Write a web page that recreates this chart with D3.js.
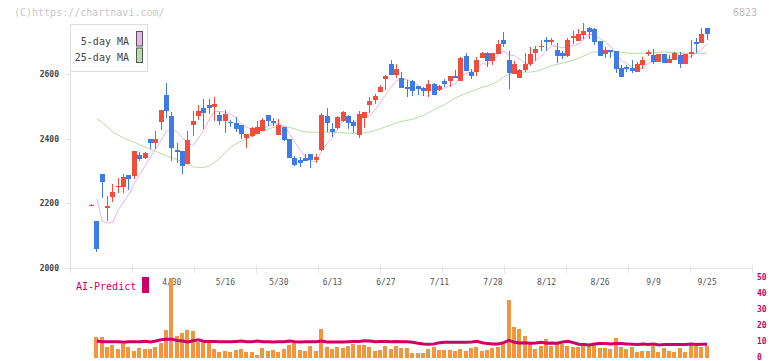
<!DOCTYPE html>
<html><head><meta charset="utf-8">
<script src="https://cdn.jsdelivr.net/npm/d3@7"></script>
<style>
body{margin:0;background:#fff;}
svg{display:block;}
text{font-family:"DejaVu Sans Mono","Liberation Mono",monospace;}
</style>
</head><body>
<svg id="c" width="772" height="361"></svg>
<script>
const dates = ["4/8","4/9","4/10","4/11","4/14","4/15","4/16","4/17","4/18","4/21","4/22","4/23","4/24","4/25","4/28","4/30",
"5/1","5/2","5/7","5/8","5/9","5/12","5/13","5/14","5/15","5/16","5/19","5/20","5/21","5/22","5/23","5/26","5/27","5/28","5/29","5/30",
"6/2","6/3","6/4","6/5","6/6","6/9","6/10","6/11","6/12","6/13","6/16","6/17","6/18","6/19","6/20","6/23","6/24","6/25","6/26","6/27","6/30",
"7/1","7/2","7/3","7/4","7/7","7/8","7/9","7/10","7/11","7/14","7/15","7/16","7/17","7/18","7/22","7/23","7/24","7/25","7/28","7/29","7/30","7/31",
"8/1","8/4","8/5","8/6","8/7","8/8","8/12","8/13","8/14","8/15","8/18","8/19","8/20","8/21","8/22","8/25","8/26","8/27","8/28","8/29",
"9/1","9/2","9/3","9/4","9/5","9/8","9/9","9/10","9/11","9/12","9/16","9/17","9/18","9/19","9/22","9/24","9/25"];

const openP = [2195,2146,2292,2187,2221,2250,2250,2289,2284,2350,
2340,2400,2387,2452,2535,2469,2365,2361,2323,2441,
2469,2494,2504,2497,2472,2454,2452,2449,2441,2401,
2407,2413,2423,2472,2454,2410,2435,2398,2339,2333,
2339,2354,2333,2364,2469,2429,2432,2454,2469,2451,
2410,2463,2504,2519,2544,2584,2631,2597,2588,2560,
2578,2563,2557,2547,2569,2550,2578,2578,2594,2578,
2656,2606,2606,2650,2665,2640,2662,2706,2643,2600,
2588,2612,2631,2665,2684,2706,2700,2675,2665,2656,
2712,2703,2721,2743,2740,2703,2662,2675,2671,2619,
2622,2619,2606,2628,2662,2659,2637,2662,2634,2643,
2659,2631,2662,2700,2696,2743];

const highP = [2197,2146,2292,2222,2261,2277,2292,2289,2361,2358,
2360,2400,2424,2488,2572,2481,2386,2361,2424,2485,
2504,2522,2522,2528,2481,2488,2457,2466,2443,2413,
2435,2454,2463,2472,2463,2460,2435,2398,2345,2342,
2354,2354,2354,2479,2494,2448,2470,2485,2472,2457,
2485,2482,2528,2538,2566,2597,2643,2631,2606,2581,
2581,2563,2560,2581,2572,2565,2584,2594,2612,2653,
2665,2616,2653,2668,2668,2665,2706,2731,2671,2640,
2615,2665,2684,2687,2706,2715,2712,2696,2671,2712,
2734,2740,2759,2746,2743,2703,2684,2675,2671,2628,
2628,2643,2637,2653,2675,2678,2662,2662,2659,2668,
2668,2662,2706,2712,2743,2743];

const lowP = [2193,2051,2218,2146,2203,2231,2231,2242,2276,2330,
2338,2367,2367,2427,2463,2331,2326,2292,2323,2408,
2457,2429,2476,2454,2443,2419,2435,2421,2398,2370,
2405,2413,2423,2438,2438,2410,2392,2339,2317,2311,
2330,2308,2326,2361,2420,2404,2430,2452,2429,2417,
2401,2432,2479,2507,2544,2550,2597,2588,2557,2528,
2532,2535,2532,2528,2535,2548,2560,2560,2588,2578,
2609,2584,2594,2650,2622,2628,2662,2684,2553,2600,
2588,2606,2625,2640,2671,2671,2690,2634,2647,2653,
2693,2703,2709,2709,2690,2656,2650,2650,2603,2591,
2606,2603,2606,2616,2656,2631,2637,2634,2634,2643,
2619,2631,2650,2665,2696,2706];

const closeP = [2195,2059,2267,2193,2234,2255,2280,2274,2361,2336,
2357,2387,2400,2488,2486,2370,2359,2315,2395,2454,
2485,2479,2494,2507,2454,2476,2450,2430,2413,2413,
2432,2435,2457,2454,2449,2441,2395,2339,2320,2326,
2330,2333,2342,2472,2448,2420,2466,2482,2448,2438,
2476,2482,2516,2532,2560,2594,2597,2616,2557,2553,
2547,2553,2547,2569,2535,2563,2569,2594,2588,2650,
2609,2594,2643,2665,2640,2665,2693,2693,2603,2631,
2612,2631,2662,2678,2687,2700,2706,2656,2656,2706,
2718,2724,2734,2731,2700,2656,2675,2668,2616,2591,
2616,2609,2631,2643,2668,2637,2662,2634,2647,2665,
2631,2662,2668,2693,2724,2724];

const ma5 = [null,2214,2145,2139,2142,2180,2205,2228,2262,2290,
2315,2343,2368,2394,2424,2426,2421,2404,2385,2379,
2402,2426,2461,2484,2484,2482,2476,2463,2445,2436,
2428,2425,2430,2438,2445,2447,2439,2416,2389,2364,
2342,2330,2330,2361,2385,2403,2430,2458,2453,2451,
2462,2465,2472,2489,2513,2537,2560,2580,2585,2583,
2574,2565,2551,2554,2550,2553,2557,2566,2570,2593,
2602,2607,2617,2632,2630,2641,2661,2671,2659,2657,
2646,2634,2628,2643,2654,2672,2687,2685,2681,2685,
2688,2692,2708,2723,2721,2709,2699,2686,2663,2641,
2633,2620,2613,2618,2633,2638,2648,2649,2650,2649,
2648,2648,2655,2664,2676,2694];

const ma25 = [null,2462,2450,2436,2420,2411,2402,2395,2389,2381,
2374,2367,2361,2354,2347,2341,2335,2327,2320,2313,
2311,2311,2316,2326,2340,2358,2374,2384,2392,2399,
2407,2415,2423,2430,2435,2439,2439,2435,2430,2424,
2421,2420,2420,2420,2420,2419,2419,2418,2417,2416,
2416,2418,2421,2425,2431,2437,2443,2449,2453,2457,
2460,2466,2472,2481,2490,2498,2506,2516,2526,2534,
2540,2547,2553,2559,2563,2569,2579,2591,2599,2604,
2605,2606,2606,2608,2613,2620,2626,2630,2634,2638,
2643,2649,2656,2664,2668,2668,2668,2668,2668,2667,
2665,2664,2664,2664,2664,2665,2667,2668,2667,2666,
2665,2664,2664,2664,2664,2664];

const aiBars = [null,13.1,13.1,6.9,8.1,5.6,8.8,6.9,4.4,6.3,5.6,
5.6,6.9,9.4,17.5,50,13.8,15.6,17.5,16.9,10,
9.4,9.4,5.6,3.8,4.4,3.8,5,5.6,3.8,3.8,
1.9,6.3,4.4,5,3.8,5.6,8.1,9.4,5,4.4,
7.5,4.4,18.1,6.9,5.6,6.9,6.3,7.5,8.8,8.1,
8.1,6.9,4.4,5,7.5,5.6,7.5,6.3,6.3,3.1,
3.1,3.1,5.6,6.9,5,5,5,4.4,5.6,4.4,
6.3,6.9,4.4,5,6.3,6.9,8.8,36.3,19.4,18.1,
13.8,9.4,5.6,7.5,11.9,7.5,8.8,8.8,7.5,6.9,
6.9,7.5,7.5,8.1,6.3,6.3,5.6,12.5,6.9,5.6,
6.9,3.8,4.4,4.4,7.5,3.8,6.3,4.4,3.8,6.3,
3.8,9.4,7.5,6.9,7.5];

const aiLine = [null,10.4,10.0,10.0,10.0,10.0,9.6,10.0,10.0,10.0,10.2,
9.8,10.4,11.2,11.6,11.6,10.8,10.4,9.8,10.6,11.2,
10.2,10.2,10.2,10.0,10.0,10.0,10.2,10.4,10.0,10.0,
10.4,10.0,10.0,9.8,10.0,10.0,10.4,10.0,9.8,10.0,
10.0,10.0,10.4,9.8,9.8,9.8,9.8,10.0,10.2,10.2,
10.6,10.4,10.0,10.2,10.2,10.0,10.2,10.0,10.0,9.6,
9.0,8.6,8.4,8.6,9.4,9.6,9.6,9.6,9.6,9.6,
9.8,10.2,9.4,8.8,8.6,8.6,9.4,10.8,9.6,9.2,
9.4,9.0,9.2,9.6,9.0,9.2,9.0,9.8,10.2,9.4,
8.4,8.2,8.0,8.6,8.8,8.8,8.6,8.8,8.8,8.6,
8.4,8.2,8.6,8.2,8.6,8.0,8.2,8.2,8.2,8.2,
8.2,8.6,8.2,8.4,8.4];

const xLabels = ["4/30","5/16","5/30","6/13","6/27","7/11","7/28","8/12","8/26","9/9","9/25"];
const priceTicks = [2000,2200,2400,2600];
const aiTicks = [0,10,20,30,40,50];
const legendItems = ["5-day MA","25-day MA"];

const UP = "#f04e3c", DOWN = "#3e7be8", MA5C = "#e9b3ec", MA25C = "#b5dda5";
const AIC = "#cc0066", BARC = "#f0963e", AXC = "#e2e2e2";

const svg = d3.select("#c");
const x = d3.scalePoint().domain(dates).range([91.5, 707.1]);
const y = d3.scaleLinear().domain([2000, 2600]).range([268, 74]);
const ya = d3.scaleLinear().domain([0, 50]).range([357.7, 277.7]);
const frame = d3.scaleLinear().domain([0, 11]).range([70, 752]);
const left = d => Math.round(x(d) - 2.5);

// header texts
svg.append("text").attr("x", 14).attr("y", 16).attr("font-size", 10).attr("fill", "#c8c8c8")
  .text("(C)https://chartnavi.com/");
svg.append("text").attr("x", 757).attr("y", 16).attr("font-size", 10).attr("fill", "#bbb")
  .attr("text-anchor", "end").text("6823");

// axes
const ax = svg.append("g").attr("shape-rendering", "crispEdges").attr("stroke", AXC);
ax.append("line").attr("x1", 70.5).attr("x2", 70.5).attr("y1", 24).attr("y2", 273);
ax.append("line").attr("x1", 65).attr("x2", 752).attr("y1", 268.5).attr("y2", 268.5);
ax.selectAll(".yt").data(priceTicks).join("line")
  .attr("x1", 65).attr("x2", 70).attr("y1", d => Math.round(y(d)) + 0.5).attr("y2", d => Math.round(y(d)) + 0.5);
ax.selectAll(".xt").data(d3.range(12)).join("line")
  .attr("x1", d => Math.round(frame(d)) + 0.5).attr("x2", d => Math.round(frame(d)) + 0.5)
  .attr("y1", 265).attr("y2", 273);

svg.selectAll(".ylab").data(priceTicks).join("text")
  .attr("x", 59).attr("y", d => y(d) + 3).attr("text-anchor", "end")
  .attr("font-size", 8).attr("font-weight", "bold").attr("fill", "#444").text(d => d);

// MA lines
const lineGen = arr => d3.line().defined(d => d != null)
  .x((d, i) => x(dates[i])).y(d => y(d))(arr);
svg.append("path").attr("d", lineGen(ma25)).attr("fill", "none").attr("stroke", MA25C).attr("stroke-width", 1);
svg.append("path").attr("d", lineGen(ma5)).attr("fill", "none").attr("stroke", MA5C).attr("stroke-width", 1);

// candles
const cg = svg.append("g").attr("shape-rendering", "crispEdges");
dates.forEach((d, i) => {
  const o = openP[i], c = closeP[i], h = highP[i], l = lowP[i];
  const col = c >= o ? UP : DOWN;
  const lx = left(d);
  cg.append("rect").attr("x", lx + 2).attr("width", 1)
    .attr("y", y(h)).attr("height", Math.max(1, y(l) - y(h))).attr("fill", col);
  const top = y(Math.max(o, c)), bot = y(Math.min(o, c));
  cg.append("rect").attr("x", lx).attr("width", 5)
    .attr("y", top).attr("height", Math.max(1, bot - top)).attr("fill", col);
});

// legend
svg.append("rect").attr("x", 70.5).attr("y", 24.5).attr("width", 77).attr("height", 47)
  .attr("fill", "#fff").attr("stroke", "#ddd");
legendItems.forEach((t, k) => {
  svg.append("text").attr("x", 129).attr("y", 45 + k * 16).attr("text-anchor", "end")
    .attr("font-size", 10).attr("fill", "#444").text(t);
  svg.append("rect").attr("x", 136.5).attr("y", 31.5 + k * 16.5).attr("width", 6).attr("height", 14.5)
    .attr("fill", k === 0 ? MA5C : MA25C).attr("stroke", "#555");
});

// bottom panel
svg.selectAll(".xlab").data(xLabels).join("text")
  .attr("x", d => x(d)).attr("y", 285).attr("text-anchor", "middle")
  .attr("font-size", 8).attr("fill", "#555").text(d => d);

svg.append("text").attr("x", 76).attr("y", 290).attr("font-size", 10).attr("fill", AIC).text("AI-Predict");
svg.append("rect").attr("x", 142).attr("y", 277).attr("width", 7).attr("height", 16).attr("fill", AIC);

svg.selectAll(".alab").data(aiTicks).join("text")
  .attr("x", 757).attr("y", d => ya(d) + 2.5).attr("font-size", 8).attr("font-weight", "bold")
  .attr("fill", AIC).text(d => d);

svg.append("g").attr("shape-rendering", "crispEdges").selectAll("rect")
  .data(dates.map((d, i) => ({d, v: aiBars[i]})).filter(e => e.v != null)).join("rect")
  .attr("x", e => left(e.d)).attr("width", 4)
  .attr("y", e => ya(e.v)).attr("height", e => ya(0) - ya(e.v)).attr("fill", BARC);

svg.append("path").attr("d", d3.line().defined(d => d != null)
    .x((d, i) => x(dates[i])).y(d => ya(d))(aiLine))
  .attr("fill", "none").attr("stroke", AIC).attr("stroke-width", 3);
</script>
</body></html>
